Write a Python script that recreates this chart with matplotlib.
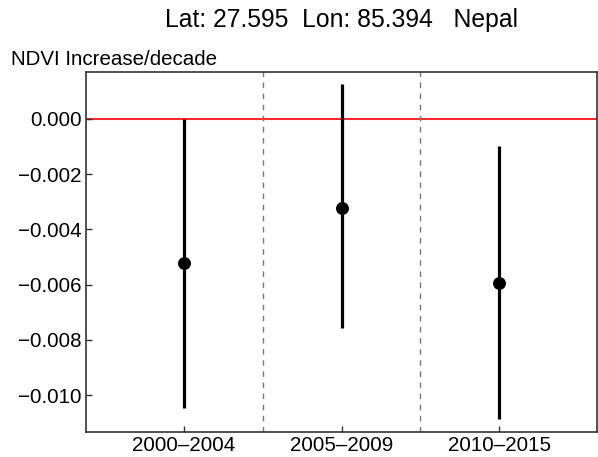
import matplotlib
matplotlib.use("Agg")
import matplotlib.pyplot as plt
from matplotlib.ticker import FuncFormatter

plt.rcParams["font.family"] = ["Liberation Sans", "DejaVu Sans"]

periods = ["2000\u20132004", "2005\u20132009", "2010\u20132015"]
trend = [-0.00523, -0.00321, -0.00595]
ci_low = [-0.01047, -0.00758, -0.01087]
ci_high = [0.0000, 0.00125, -0.00100]

W, H = 598, 457
fig = plt.figure(figsize=(W / 100, H / 100), dpi=100)
ax = fig.add_axes([86 / W, 1 - 432.3 / H, 511 / W, 360 / H])

xs = list(range(1, len(periods) + 1))
ax.axhline(0, color="#ff2a2a", lw=1.5, zorder=1)
for b in [1.5, 2.5]:
    ax.axvline(b, color="#777777", lw=1.0, ls=(0, (4, 4)), zorder=1)
ax.vlines(xs, ci_low, ci_high, color="black", lw=2.3, zorder=2)
ax.plot(xs, trend, "o", color="black", ms=8.3, zorder=3)

ax.set_xlim(0.38, 3.62)
ax.set_ylim(-0.01134, 0.00168)
ax.set_xticks(xs)
ax.set_xticklabels(periods)
ax.set_yticks([0, -0.002, -0.004, -0.006, -0.008, -0.010])
ax.yaxis.set_major_formatter(FuncFormatter(lambda v, p: f"{v:.3f}".replace("-", "\u2212")))
ax.tick_params(direction="in", length=4, width=1, labelsize=14.8, pad=3, color="#333333")
for s in ax.spines.values():
    s.set_color("#333333")
    s.set_linewidth(1.2)

fig.text(341.5 / W, 1 - 27.3 / H, "Lat: 27.595  Lon: 85.394   Nepal",
         ha="center", va="baseline", fontsize=17.8)
fig.text(11 / W, 1 - 65 / H, "NDVI Increase/decade", ha="left", va="baseline", fontsize=14.8)

fig.savefig("out.png", dpi=100)
